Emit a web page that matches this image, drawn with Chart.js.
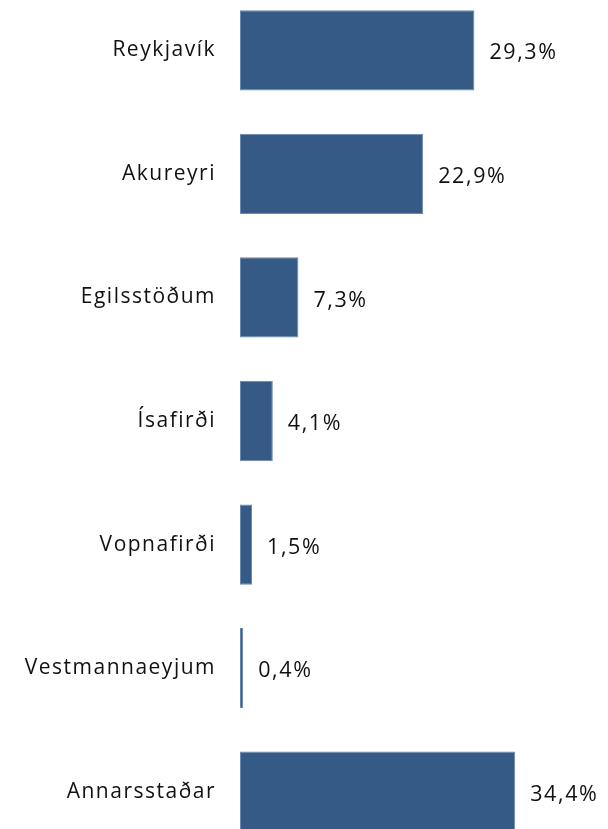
<!DOCTYPE html>
<html>
<head>
<meta charset="utf-8">
<style>
  html, body { margin: 0; padding: 0; background: #fff; overflow: hidden; }
  #placeChart { position: absolute; left: 0; top: -40px; }
</style>
</head>
<body>
<canvas id="placeChart" width="608" height="922"></canvas>

<script src="https://cdn.jsdelivr.net/npm/chart.js"></script>
<script>
const places = ['Reykjavík', 'Akureyri', 'Egilsstöðum', 'Ísafirði', 'Vopnafirði', 'Vestmannaeyjum', 'Annarsstaðar'];
const shares = [29.3, 22.9, 7.3, 4.1, 1.5, 0.4, 34.4];

const fontFamily = '"Open Sans", "Noto Sans", sans-serif';

// a bit of letter spacing, closer to the original's look
const spacing = {
  id: 'spacing',
  beforeDraw(chart) {
    chart.ctx.letterSpacing = '1.5px';
  }
};

// value labels to the right of each bar
const valueLabels = {
  id: 'valueLabels',
  afterDatasetsDraw(chart) {
    const ctx = chart.ctx;
    const meta = chart.getDatasetMeta(0);
    ctx.save();
    ctx.letterSpacing = '1.6px';
    ctx.font = '21.5px ' + fontFamily;
    ctx.fillStyle = '#111';
    ctx.textAlign = 'left';
    ctx.textBaseline = 'middle';
    meta.data.forEach((bar, i) => {
      const txt = shares[i].toFixed(1).replace('.', ',') + '%';
      ctx.fillText(txt, bar.x + 15, bar.y + 3);
    });
    ctx.restore();
  }
};

new Chart(document.getElementById('placeChart'), {
  type: 'bar',
  data: {
    labels: places,
    datasets: [{
      data: shares,
      backgroundColor: '#355a86',
      borderColor: '#6a88b0',
      borderWidth: 1,
      borderSkipped: false,
      categoryPercentage: 0.65,
      barPercentage: 1
    }]
  },
  options: {
    indexAxis: 'y',
    responsive: false,
    animation: false,
    layout: { padding: 0 },
    plugins: {
      legend: { display: false },
      tooltip: { enabled: false }
    },
    scales: {
      x: {
        min: 0,
        max: 46,
        display: false
      },
      y: {
        grid: { display: false },
        border: { display: false },
        ticks: {
          color: '#111',
          padding: 16,
          font: { family: fontFamily, size: 21 }
        },
        afterFit(scale) { scale.width = 240; }
      }
    }
  },
  plugins: [spacing, valueLabels]
});
</script>
</body>
</html>
